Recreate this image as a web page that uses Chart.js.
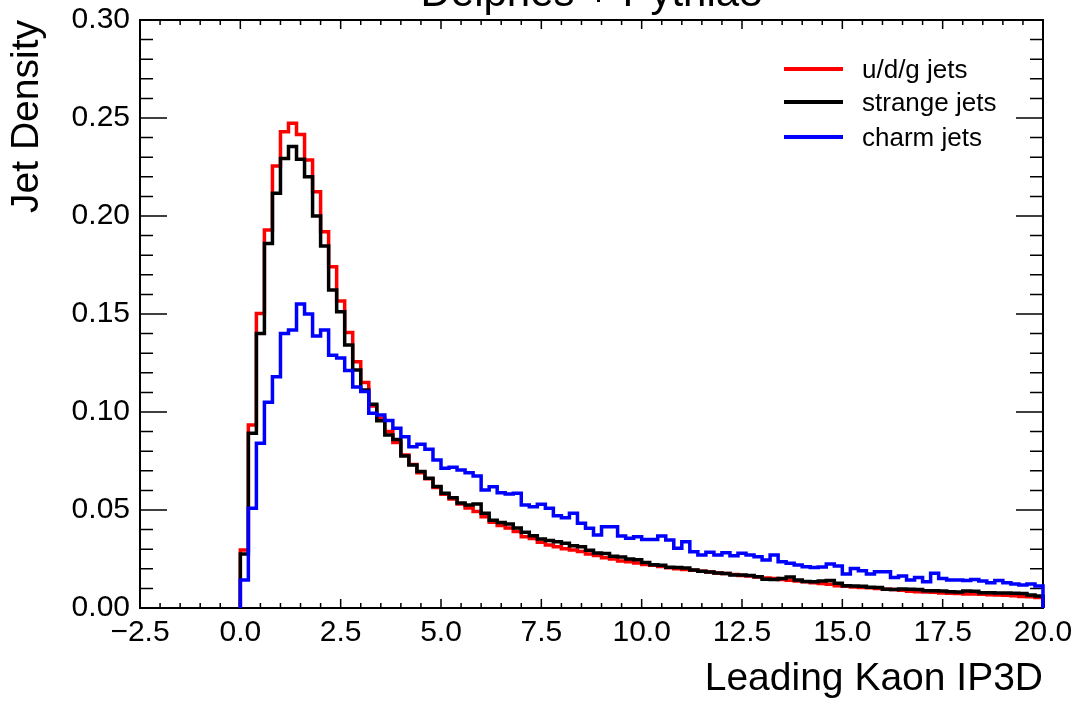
<!DOCTYPE html>
<html>
<head>
<meta charset="utf-8">
<script src="https://cdn.jsdelivr.net/npm/chart.js@4.4.0/dist/chart.umd.min.js"></script>
<style>
  html, body { margin: 0; padding: 0; background: #fff; }
  #wrap { width: 1084px; height: 710px; }
</style>
</head>
<body>
<div id="wrap"><canvas id="ip3d-chart" width="1084" height="710"></canvas></div>
<script>
// histogram binning: 100 bins of 0.2 starting at 0
const binStart = 0;
const binWidth = 0.2;

const udgJets = [
  0.0296, 0.0934, 0.1503, 0.1929, 0.2255, 0.2430, 0.2473, 0.2416, 0.2286, 0.2124,
  0.1920, 0.1741, 0.1566, 0.1405, 0.1257, 0.1150, 0.1031, 0.0968, 0.0900, 0.0845,
  0.0780, 0.0732, 0.0690, 0.0660, 0.0615, 0.0580, 0.0556, 0.0530, 0.0510, 0.0492,
  0.0466, 0.0437, 0.0421, 0.0408, 0.0390, 0.0364, 0.0355, 0.0336, 0.0322, 0.0313,
  0.0302, 0.0296, 0.0288, 0.0275, 0.0268, 0.0256, 0.0250, 0.0240, 0.0236, 0.0230,
  0.0222, 0.0218, 0.0212, 0.0205, 0.0200, 0.0196, 0.0192, 0.0188, 0.0184, 0.0179,
  0.0176, 0.0171, 0.0166, 0.0163, 0.0158, 0.0153, 0.0150, 0.0146, 0.0141, 0.0138,
  0.0134, 0.0129, 0.0125, 0.0121, 0.0114, 0.0111, 0.0107, 0.0105, 0.0103, 0.0099,
  0.0096, 0.0094, 0.0091, 0.0085, 0.0083, 0.0082, 0.0080, 0.0077, 0.0075, 0.0074,
  0.0072, 0.0071, 0.0070, 0.0067, 0.0066, 0.0065, 0.0063, 0.0059, 0.0057, 0.0053
];

const strangeJets = [
  0.0276, 0.0891, 0.1400, 0.1860, 0.2116, 0.2294, 0.2354, 0.2289, 0.2200, 0.2000,
  0.1847, 0.1622, 0.1512, 0.1342, 0.1214, 0.1112, 0.1040, 0.0955, 0.0883, 0.0860,
  0.0775, 0.0730, 0.0696, 0.0662, 0.0620, 0.0585, 0.0562, 0.0536, 0.0526, 0.0531,
  0.0483, 0.0448, 0.0436, 0.0428, 0.0408, 0.0386, 0.0368, 0.0352, 0.0344, 0.0338,
  0.0330, 0.0318, 0.0312, 0.0295, 0.0280, 0.0278, 0.0264, 0.0260, 0.0250, 0.0246,
  0.0232, 0.0221, 0.0218, 0.0208, 0.0207, 0.0204, 0.0194, 0.0187, 0.0184, 0.0178,
  0.0176, 0.0169, 0.0168, 0.0166, 0.0160, 0.0147, 0.0145, 0.0151, 0.0158, 0.0143,
  0.0135, 0.0134, 0.0138, 0.0140, 0.0126, 0.0113, 0.0112, 0.0111, 0.0106, 0.0105,
  0.0096, 0.0095, 0.0097, 0.0096, 0.0094, 0.0088, 0.0088, 0.0087, 0.0083, 0.0082,
  0.0087, 0.0085, 0.0078, 0.0078, 0.0077, 0.0076, 0.0075, 0.0074, 0.0066, 0.0061
];

const charmJets = [
  0.0143, 0.0509, 0.0840, 0.1050, 0.1180, 0.1400, 0.1418, 0.1551, 0.1500, 0.1388,
  0.1418, 0.1289, 0.1276, 0.1212, 0.1127, 0.1105, 0.0993, 0.0985, 0.0956, 0.0917,
  0.0874, 0.0823, 0.0835, 0.0810, 0.0755, 0.0713, 0.0718, 0.0704, 0.0690, 0.0673,
  0.0602, 0.0619, 0.0588, 0.0582, 0.0585, 0.0526, 0.0517, 0.0529, 0.0509, 0.0471,
  0.0461, 0.0483, 0.0432, 0.0407, 0.0372, 0.0415, 0.0415, 0.0367, 0.0356, 0.0364,
  0.0350, 0.0350, 0.0367, 0.0347, 0.0305, 0.0338, 0.0287, 0.0270, 0.0284, 0.0270,
  0.0282, 0.0267, 0.0279, 0.0270, 0.0262, 0.0245, 0.0270, 0.0236, 0.0228, 0.0219,
  0.0211, 0.0207, 0.0209, 0.0224, 0.0214, 0.0173, 0.0202, 0.0190, 0.0173, 0.0185,
  0.0185, 0.0156, 0.0163, 0.0143, 0.0156, 0.0134, 0.0177, 0.0151, 0.0143, 0.0143,
  0.0140, 0.0146, 0.0138, 0.0129, 0.0140, 0.0129, 0.0122, 0.0117, 0.0122, 0.0112
];

const seriesNames = ["u/d/g jets", "strange jets", "charm jets"];
const seriesColors = ["#ff0000", "#000000", "#0000ff"];

const xTickValues = [-2.5, 0, 2.5, 5, 7.5, 10, 12.5, 15, 17.5, 20];
const yTickValues = [0, 0.05, 0.10, 0.15, 0.20, 0.25, 0.30];

const FONT = "'Liberation Sans', Arial, Helvetica, sans-serif";

// turn bin contents into a closed step outline (like ROOT's hist draw)
function toSteps(values) {
  const pts = [{ x: binStart, y: 0 }];
  values.forEach((v, i) => pts.push({ x: binStart + i * binWidth, y: v }));
  const end = binStart + values.length * binWidth;
  pts.push({ x: end, y: values[values.length - 1] });
  pts.push({ x: end, y: 0 });
  return pts;
}

// frame + inward ticks on all four sides
const frameTicks = {
  id: "frameTicks",
  beforeDatasetsDraw(chart) {
    const { ctx, chartArea: a, scales: { x, y } } = chart;
    ctx.save();
    ctx.strokeStyle = "#000";
    ctx.lineWidth = 1.5;
    ctx.beginPath();
    for (let i = 0; i <= 45; i++) {
      const px = x.getPixelForValue(-2.5 + i * 0.5);
      const len = i % 5 === 0 ? 9 : 5;
      ctx.moveTo(px, a.bottom); ctx.lineTo(px, a.bottom - len);
      ctx.moveTo(px, a.top); ctx.lineTo(px, a.top + len);
    }
    for (let j = 0; j <= 30; j++) {
      const py = y.getPixelForValue(j * 0.01);
      const len = j % 5 === 0 ? 27 : 13;
      ctx.moveTo(a.left, py); ctx.lineTo(a.left + len, py);
      ctx.moveTo(a.right, py); ctx.lineTo(a.right - len, py);
    }
    ctx.stroke();
    ctx.lineWidth = 2;
    ctx.strokeRect(a.left, a.top, a.right - a.left, a.bottom - a.top);
    ctx.restore();
  },
  afterDraw(chart) {
    const { ctx, chartArea: a } = chart;
    ctx.save();
    // title sits mostly above the canvas, as in the original
    ctx.fillStyle = "#000";
    ctx.font = "42px " + FONT;
    ctx.textAlign = "center";
    ctx.textBaseline = "alphabetic";
    ctx.fillText("Delphes + Pythia8", (a.left + a.right) / 2, 6);

    // legend
    const rows = [69, 102, 137];
    ctx.font = "26px " + FONT;
    ctx.textAlign = "left";
    seriesNames.forEach((name, i) => {
      ctx.strokeStyle = seriesColors[i];
      ctx.lineWidth = 4;
      ctx.beginPath();
      ctx.moveTo(784, rows[i]);
      ctx.lineTo(843, rows[i]);
      ctx.stroke();
      ctx.fillStyle = "#000";
      ctx.fillText(name, 862, rows[i] + 9);
    });
    ctx.restore();
  }
};

const datasets = [udgJets, strangeJets, charmJets].map((vals, i) => ({
  label: seriesNames[i],
  data: toSteps(vals),
  borderColor: seriesColors[i],
  borderWidth: 3.5,
  pointRadius: 0,
  stepped: true,
  fill: false,
  clip: false,
  order: 2 - i
}));

const ip3dChart = new Chart(document.getElementById("ip3d-chart"), {
  type: "line",
  data: { datasets: datasets },
  options: {
    responsive: false,
    animation: false,
    layout: { padding: { top: 20, right: 41, left: 0, bottom: 0 } },
    plugins: { legend: { display: false }, tooltip: { enabled: false } },
    scales: {
      x: {
        type: "linear",
        min: -2.5,
        max: 20,
        grid: { display: false, drawTicks: false },
        border: { display: false },
        afterBuildTicks: (s) => { s.ticks = xTickValues.map(v => ({ value: v })); },
        afterFit: (s) => { s.height = 102; },
        ticks: {
          autoSkip: false,
          maxRotation: 0,
          padding: 7,
          color: "#000",
          font: { family: FONT, size: 30 },
          callback: (v) => v.toFixed(1).replace("-", "\u2212")
        },
        title: {
          display: true,
          text: "Leading Kaon IP3D",
          align: "end",
          color: "#000",
          font: { family: FONT, size: 39 },
          padding: { top: 0, bottom: 7 }
        }
      },
      y: {
        type: "linear",
        min: 0,
        max: 0.3,
        grid: { display: false, drawTicks: false },
        border: { display: false },
        afterBuildTicks: (s) => { s.ticks = yTickValues.map(v => ({ value: v })); },
        afterFit: (s) => { s.width = 140; s.paddingTop = 0; s.paddingBottom = 0; },
        ticks: {
          padding: 10,
          color: "#000",
          font: { family: FONT, size: 30 },
          callback: (v) => v.toFixed(2)
        },
        title: {
          display: true,
          text: "Jet Density",
          align: "end",
          color: "#000",
          font: { family: FONT, size: 39 },
          padding: { top: 4, bottom: 0 }
        }
      }
    }
  },
  plugins: [frameTicks]
});
</script>
</body>
</html>
